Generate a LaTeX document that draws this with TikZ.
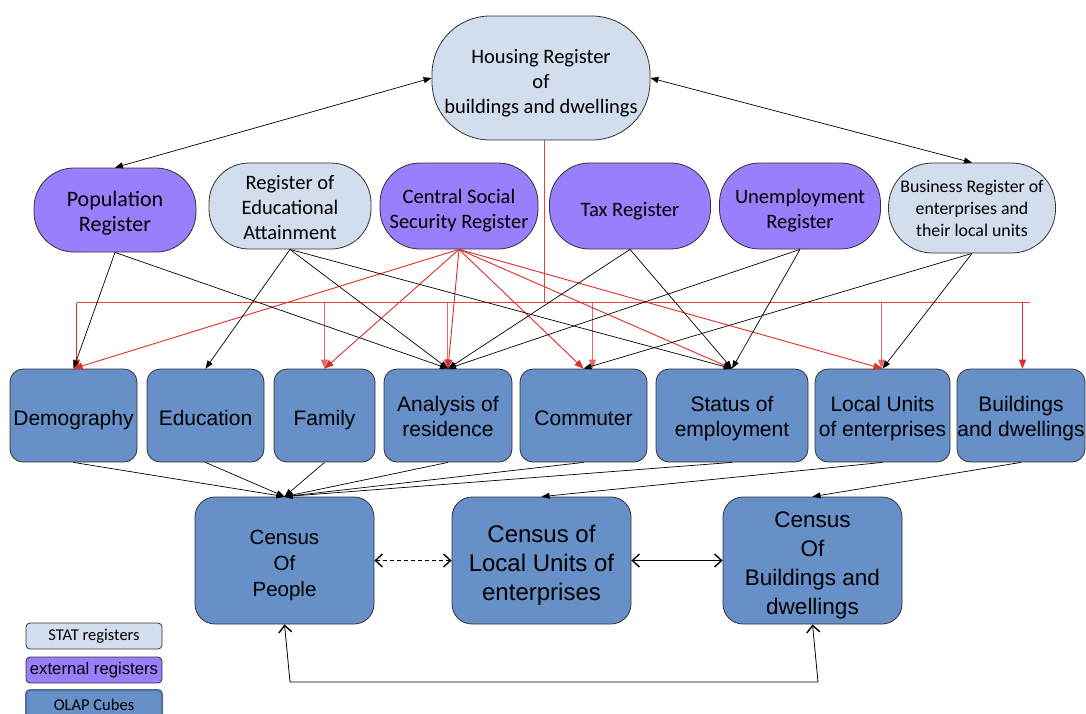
\documentclass[tikz,border=0pt]{standalone}
\usepackage{fontspec}
\setmainfont{Liberation Sans}
\newfontfamily\calib{Carlito}
\usetikzlibrary{arrows.meta}
\definecolor{extpurple}{RGB}{153,127,251}
\definecolor{statblue}{RGB}{210,221,237}
\definecolor{olapblue}{RGB}{104,144,200}
\definecolor{olapborder}{RGB}{80,110,160}
\definecolor{bordergray}{RGB}{50,50,50}
\definecolor{linkred}{RGB}{222,45,38}
\definecolor{droppink}{RGB}{228,105,100}
\definecolor{buspink}{RGB}{224,70,62}
\newcommand\nudged[2]{\raisebox{-#1}[\height][\depth]{\begin{tabular}{@{}c@{}}#2\end{tabular}}}
\begin{document}
\begin{tikzpicture}[x=1pt,y=-1pt,
  reg/.style={draw=bordergray, line width=0.8pt, rounded corners=40pt, minimum height=86pt, inner sep=0pt, font=\calib\fontsize{20.5}{25}\selectfont},
  statreg/.style={reg, fill=statblue},
  extreg/.style={reg, fill=extpurple},
  cube/.style={draw=bordergray, line width=0.8pt, fill=olapblue, rounded corners=13pt, minimum height=93pt, inner sep=0pt, font=\fontsize{21}{25}\selectfont},
  census/.style={cube, rounded corners=20pt, minimum width=179pt, minimum height=127pt},
  feed/.style={draw=black, line width=0.7pt, -{Triangle[length=8pt,width=6pt]}},
  redfeed/.style={draw=linkred, line width=0.9pt, -{Triangle[length=9pt,width=7pt]}},
  dropline/.style={draw=droppink, line width=1pt, -{Triangle[length=9pt,width=7pt]}},
  busline/.style={draw=buspink, line width=1pt},
  twoway/.style={draw=black, line width=0.7pt, {Triangle[length=8pt,width=6pt]}-{Triangle[length=8pt,width=6pt]}},
  linkage/.style={draw=black, {Straight Barb[length=7pt,width=13pt,line width=1.4pt]}-{Straight Barb[length=7pt,width=13pt,line width=1.4pt]}},
  legendbox/.style={draw=bordergray, line width=0.8pt, rounded corners=4pt, minimum width=136pt, minimum height=26pt, inner sep=0pt}
]
\useasboundingbox (0,0) rectangle (1086,713);

% registers
\node[statreg, minimum width=218pt, minimum height=124pt, rounded corners=58pt] (housing) at (541,78) {\nudged{5pt}{Housing Register\\of\\buildings and dwellings}};
\node[extreg, minimum width=162pt, minimum height=84pt, font=\calib\fontsize{22}{25}\selectfont] (pop) at (115,210) {\nudged{4pt}{Population\\Register}};
\node[statreg, minimum width=162pt] (edu) at (290,206) {\nudged{3pt}{Register of\\Educational\\Attainment}};
\node[extreg, minimum width=158pt] (css) at (459,206) {\nudged{5pt}{Central Social\\Security Register}};
\node[extreg, minimum width=161pt] (tax) at (630,206) {\nudged{5pt}{Tax Register}};
\node[extreg, minimum width=161pt] (unemp) at (800,206) {\nudged{5pt}{Unemployment\\Register}};
\node[statreg, minimum width=167pt, minimum height=90pt, rounded corners=44pt, font=\calib\fontsize{17.8}{22}\selectfont] (busreg) at (972,208) {\nudged{2pt}{Business Register of\\enterprises and\\their local units}};

% cubes
\node[cube, minimum width=127pt] (demo) at (73.5,415.5) {\nudged{5pt}{Demography}};
\node[cube, minimum width=117pt] (educ) at (205.5,415.5) {\nudged{4.5pt}{Education}};
\node[cube, minimum width=101pt] (fam) at (324.5,415.5) {\nudged{5pt}{Family}};
\node[cube, minimum width=128pt] (anal) at (448,415.5) {\nudged{3pt}{Analysis of\\residence}};
\node[cube, minimum width=127pt] (comm) at (583.5,415.5) {\nudged{4.5pt}{Commuter}};
\node[cube, minimum width=152pt] (stat) at (732,415.5) {\nudged{3.5pt}{Status of\\employment}};
\node[cube, minimum width=135pt] (local) at (882.5,415.5) {\nudged{3.5pt}{Local Units\\of enterprises}};
\node[cube, minimum width=128pt] (build) at (1021,415.5) {\nudged{3.5pt}{Buildings\\and dwellings}};

% census
\node[census, font=\fontsize{20.5}{26}\selectfont] (cpeople) at (284.5,560.5) {\nudged{5pt}{Census\\Of\\People}};
\node[census, font=\fontsize{24}{29}\selectfont] (clocal) at (541.5,560.5) {\nudged{5pt}{Census of\\Local Units of\\enterprises}};
\node[census, font=\fontsize{22.5}{29}\selectfont] (cbuild) at (812.5,560.5) {\nudged{4.5pt}{Census\\Of\\Buildings and\\dwellings}};

% legend
\node[legendbox, fill=statblue, font=\calib\fontsize{16.5}{18}\selectfont] (lstat) at (94,636) {STAT registers};
\node[legendbox, fill=extpurple, font=\fontsize{16.7}{18}\selectfont] (lext) at (94,670) {external registers};
\node[legendbox, fill=olapblue, draw=olapborder, line width=2pt, minimum height=30pt, font=\calib\fontsize{16.5}{18}\selectfont] (lolap) at (94,705) {OLAP Cubes};

% housing links
\draw[twoway] (housing.west) -- (pop.north);
\draw[twoway] (housing.east) -- (busreg.north);

% red distribution
\coordinate (hb) at (544.5,302.5);
\coordinate (hl) at (77,302.5);
\coordinate (hr) at (1030,302.5);
\draw[busline] (housing.south -| hb) -- (hb);
\draw[busline] (hl) -- (hr);
\coordinate (d1) at (76.5,302.5);
\coordinate (d2) at (324.5,302.5);
\coordinate (d3) at (447.5,302.5);
\coordinate (d4) at (592.5,302.5);
\coordinate (d5) at (881.5,302.5);
\coordinate (d6) at (1022.5,302.5);
\draw[redfeed] (d1) -- (d1 |- demo.north);
\draw[dropline] (d2) -- (d2 |- fam.north);
\draw[dropline] (d3) -- (d3 |- anal.north);
\draw[dropline] (d4) -- (d4 |- comm.north);
\draw[dropline] (d5) -- (d5 |- local.north);
\draw[redfeed] (d6) -- (d6 |- build.north);

% central social security
\foreach \t in {demo,fam,anal,comm,stat,local}
  \draw[redfeed] (css.south) -- (\t.north);

% black feeds
\draw[feed] (pop.south) -- (demo.north);
\draw[feed] (pop.south) -- (anal.north);
\draw[feed] (edu.south) -- (educ.north);
\draw[feed] (edu.south) -- (anal.north);
\draw[feed] (edu.south) -- (stat.north);
\draw[feed] (tax.south) -- (anal.north);
\draw[feed] (tax.south) -- (stat.north);
\draw[feed] (unemp.south) -- (anal.north);
\draw[feed] (unemp.south) -- (stat.north);
\draw[feed] (busreg.south) -- (comm.north);
\draw[feed] (busreg.south) -- (local.north);

% cubes to census
\foreach \s in {demo,educ,fam,anal,comm,stat}
  \draw[feed] (\s.south) -- (cpeople.north);
\draw[feed] (local.south) -- (clocal.north);
\draw[feed] (build.south) -- (cbuild.north);

% census links
\draw[linkage, dash pattern=on 4pt off 3pt, line width=0.8pt] (cpeople.east) -- (clocal.west);
\draw[linkage, line width=1.3pt] (clocal.east) -- (cbuild.west);
\coordinate (l1) at (290,682);
\coordinate (l2) at (818,682);
\draw[linkage, line width=0.8pt] (cpeople.south) -- (l1) -- (l2) -- (cbuild.south);
\end{tikzpicture}
\end{document}
